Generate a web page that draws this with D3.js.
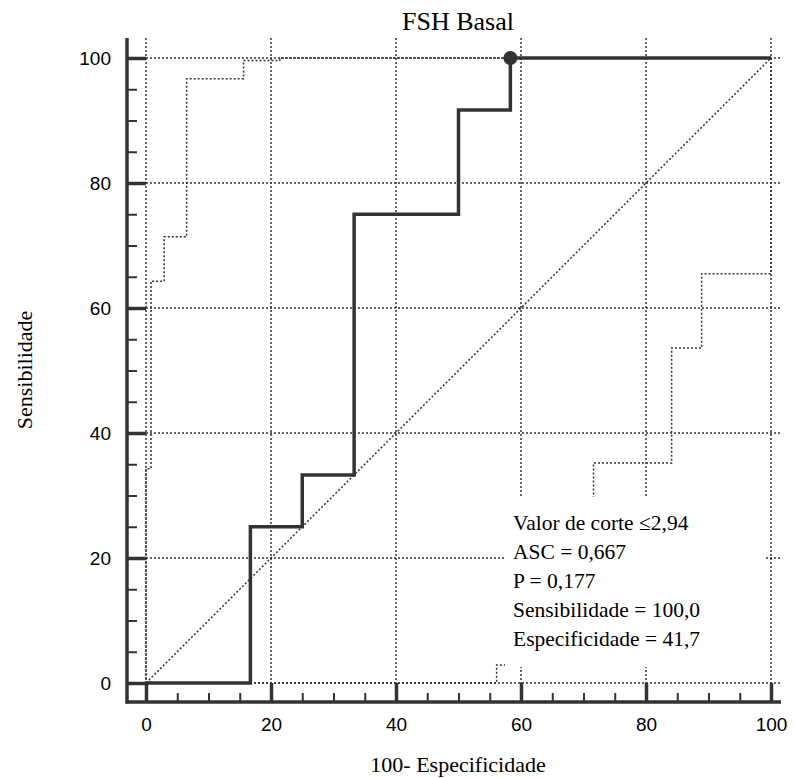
<!DOCTYPE html>
<html>
<head>
<meta charset="utf-8">
<script src="https://cdn.jsdelivr.net/npm/d3@7"></script>
<style>
  body { margin: 0; background: #fff; }
</style>
</head>
<body>
<div id="container"></div>
<script>
// ROC curve (100 - specificity, sensitivity)
const rocX = [0, 16.7, 16.7, 25, 25, 33.3, 33.3, 50, 50, 58.3, 58.3, 100];
const rocY = [0, 0, 25, 25, 33.3, 33.3, 75, 75, 91.7, 91.7, 100, 100];

// confidence bands
const upperX = [0, 0, 0.8, 0.8, 2.9, 2.9, 6.5, 6.5, 15.6, 15.6, 21.4, 21.4, 100];
const upperY = [0, 34.3, 34.3, 64.3, 64.3, 71.4, 71.4, 96.7, 96.7, 99.6, 99.6, 100, 100];
const lowerX = [0, 56.1, 56.1, 64, 64, 71.6, 71.6, 84.1, 84.1, 88.9, 88.9, 100, 100];
const lowerY = [0, 0, 2.9, 2.9, 20, 20, 35.2, 35.2, 53.6, 53.6, 65.5, 65.5, 100];

const cutPoint = [58.3, 100];
const majorTicks = [0, 20, 40, 60, 80, 100];
const minorTicks = [5, 10, 15, 25, 30, 35, 45, 50, 55, 65, 70, 75, 85, 90, 95];

const legendLines = [
  "Valor de corte \u22642,94",
  "ASC = 0,667",
  "P = 0,177",
  "Sensibilidade = 100,0",
  "Especificidade = 41,7"
];

const width = 795, height = 778;
const ink = "#333";
const serif = "'Liberation Serif', 'Times New Roman', serif";
const sans = "'Liberation Sans', Arial, sans-serif";

const svg = d3.select("#container")
  .append("svg")
  .attr("width", width)
  .attr("height", height);

const x = d3.scaleLinear().domain([0, 100]).range([146, 771]);
const y = d3.scaleLinear().domain([0, 100]).range([683, 58]);

const axisX = 127, axisY = 702;

// grid
const grid = svg.append("g")
  .attr("stroke", "#333")
  .attr("stroke-width", 1.5)
  .attr("stroke-dasharray", "2,2");

majorTicks.forEach(t => {
  grid.append("line")
    .attr("x1", x(t)).attr("x2", x(t))
    .attr("y1", 38).attr("y2", y(0));
  grid.append("line")
    .attr("x1", x(0)).attr("x2", 780)
    .attr("y1", y(t)).attr("y2", y(t));
});

// diagonal
svg.append("line")
  .attr("x1", x(0)).attr("y1", y(0))
  .attr("x2", x(100)).attr("y2", y(100))
  .attr("stroke", "#333")
  .attr("stroke-width", 1.5)
  .attr("stroke-dasharray", "2,2");

const line = d3.line()
  .x(d => x(d[0]))
  .y(d => y(d[1]));

function series(xs, ys) {
  return xs.map((v, i) => [v, ys[i]]);
}

// confidence bands
[series(upperX, upperY), series(lowerX, lowerY)].forEach(s => {
  svg.append("path")
    .datum(s)
    .attr("fill", "none")
    .attr("stroke", "#333")
    .attr("stroke-width", 1.5)
    .attr("stroke-dasharray", "2,2")
    .attr("d", line);
});

// ROC curve
svg.append("path")
  .datum(series(rocX, rocY))
  .attr("fill", "none")
  .attr("stroke", ink)
  .attr("stroke-width", 3.5)
  .attr("d", line);

svg.append("circle")
  .attr("cx", x(cutPoint[0]))
  .attr("cy", y(cutPoint[1]))
  .attr("r", 7)
  .attr("fill", ink);

// legend box
const legend = svg.append("g");
legend.append("rect")
  .attr("x", 505).attr("y", 497)
  .attr("width", 260).attr("height", 170)
  .attr("fill", "#fff");

legendLines.forEach((t, i) => {
  legend.append("text")
    .attr("x", 513)
    .attr("y", 530 + i * 29)
    .style("font-family", serif)
    .style("font-size", "21.5px")
    .attr("fill", "#000")
    .text(t);
});

// axes
const yAxis = svg.append("g")
  .attr("transform", `translate(${axisX},0)`)
  .call(d3.axisLeft(y).tickValues(majorTicks).tickSize(-(x(0) - axisX)).tickPadding(16));
const yMinor = svg.append("g")
  .attr("transform", `translate(${axisX},0)`)
  .call(d3.axisLeft(y).tickValues(minorTicks).tickSize(-10).tickFormat(""));

const xAxis = svg.append("g")
  .attr("transform", `translate(0,${axisY})`)
  .call(d3.axisBottom(x).tickValues(majorTicks).tickSize(-(axisY - y(0))).tickPadding(16));
const xMinor = svg.append("g")
  .attr("transform", `translate(0,${axisY})`)
  .call(d3.axisBottom(x).tickValues(minorTicks).tickSize(-9).tickFormat(""));

[yAxis, yMinor, xAxis, xMinor].forEach(g => g.select(".domain").remove());
[yAxis, xAxis].forEach(g => {
  g.selectAll(".tick line").attr("stroke", ink).attr("stroke-width", 3.5);
  g.selectAll(".tick text")
    .style("font-family", sans)
    .style("font-size", "19px")
    .attr("fill", "#000");
});
[yMinor, xMinor].forEach(g => {
  g.selectAll(".tick line").attr("stroke", ink).attr("stroke-width", 2);
});

svg.append("line")
  .attr("x1", axisX).attr("x2", axisX)
  .attr("y1", 38).attr("y2", axisY + 1.5)
  .attr("stroke", ink).attr("stroke-width", 3.5);
svg.append("line")
  .attr("x1", axisX - 1.5).attr("x2", 781)
  .attr("y1", axisY).attr("y2", axisY)
  .attr("stroke", ink).attr("stroke-width", 3.5);

// titles
svg.append("text")
  .attr("x", 458).attr("y", 30)
  .attr("text-anchor", "middle")
  .style("font-family", serif)
  .style("font-size", "26px")
  .text("FSH Basal");

svg.append("text")
  .attr("x", 458).attr("y", 772)
  .attr("text-anchor", "middle")
  .style("font-family", serif)
  .style("font-size", "22px")
  .text("100- Especificidade");

svg.append("text")
  .attr("transform", "translate(32,370) rotate(-90)")
  .attr("text-anchor", "middle")
  .style("font-family", serif)
  .style("font-size", "22px")
  .text("Sensibilidade");
</script>
</body>
</html>
